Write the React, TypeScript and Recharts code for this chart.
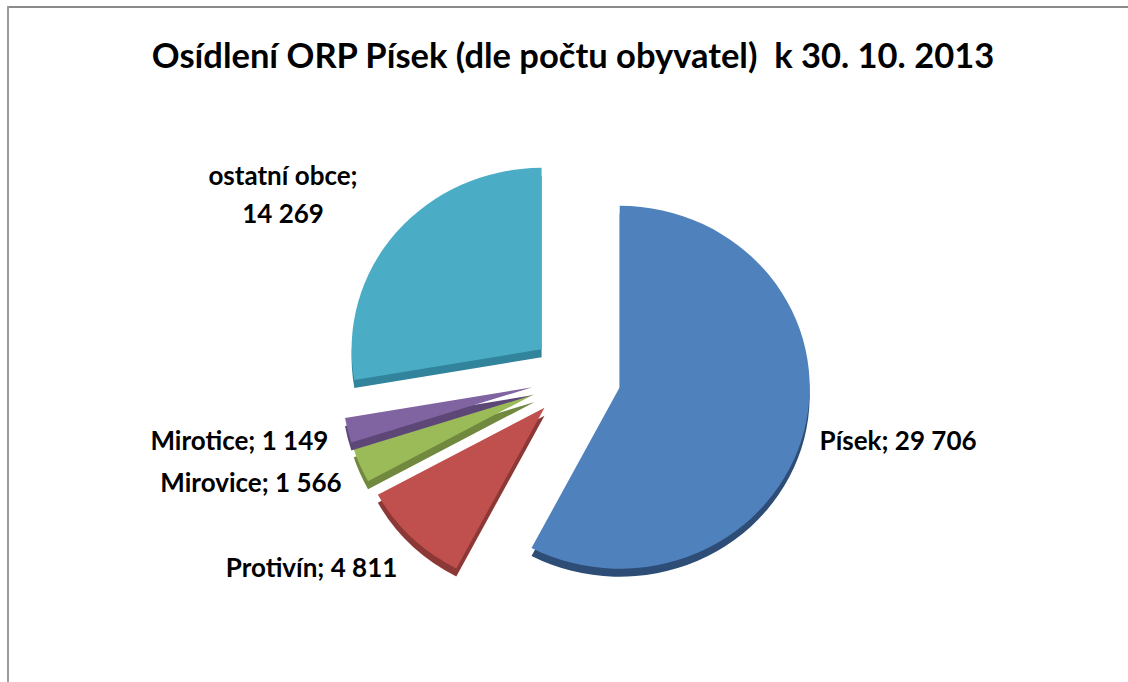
import React from 'react';
import { PieChart, Pie, Cell } from 'recharts';

const names = ['Písek', 'Protivín', 'Mirovice', 'Mirotice', 'ostatní obce'];
const populations = [29706, 4811, 1566, 1149, 14269];
const colors = ['#4F81BD', '#C0504D', '#9BBB59', '#8064A2', '#4BACC6'];
const sideColors = ['#2E4D76', '#8C3836', '#71893F', '#5C4776', '#31849B'];

const data = names.map((name, i) => ({ name, value: populations[i] }));

const RAD = Math.PI / 180;
const EXPLODE = 45;
const TILT = 0.955;
const DEPTH = 8;
const FONT = 'Lato, "Open Sans", sans-serif';

const fmt = (v: number) => String(v).replace(/\B(?=(\d{3})+(?!\d))/g, ' ');

const pt = (cx: number, cy: number, r: number, angle: number) => [
  cx + r * Math.cos(-angle * RAD),
  cy + r * TILT * Math.sin(-angle * RAD),
];

// exploded, slightly tilted slice with a darker side underneath
const ExplodedSlice = (props: any) => {
  const { cx, cy, outerRadius, startAngle, endAngle, midAngle, fill } = props;
  const name = props.name ?? props.payload?.name;
  const idx = Math.max(0, names.indexOf(name));
  const [ox, oy] = pt(0, 0, EXPLODE, midAngle);
  const x0 = cx + ox;
  const y0 = cy + oy;
  const path = (dy: number) => {
    const [sx, sy] = pt(x0, y0 + dy, outerRadius, startAngle);
    const [ex, ey] = pt(x0, y0 + dy, outerRadius, endAngle);
    const large = Math.abs(endAngle - startAngle) > 180 ? 1 : 0;
    return `M${x0},${y0 + dy} L${sx},${sy} A${outerRadius},${outerRadius * TILT} 0 ${large} 1 ${ex},${ey} Z`;
  };
  return (
    <g>
      <path d={path(DEPTH)} fill={sideColors[idx]} />
      <path d={path(0)} fill={fill} />
    </g>
  );
};

const renderLabel = (props: any) => {
  const { cx, cy, midAngle, outerRadius, name, value } = props;
  const rl = outerRadius + EXPLODE + 20;
  const x = cx + rl * Math.cos(-midAngle * RAD);
  const y = cy + rl * 1.05 * Math.sin(-midAngle * RAD);
  const right = Math.cos(-midAngle * RAD) >= 0;
  const style = { fontFamily: FONT, fontWeight: 700, fontSize: 26, fill: '#000' };
  if (name.length > 10) {
    // long name: two centred lines, like Excel's wrapped label
    return (
      <text x={x - 98} y={y} textAnchor="middle" style={style}>
        <tspan x={x - 98} dy={-19}>{name};</tspan>
        <tspan x={x - 98} dy={38}>{fmt(value)}</tspan>
      </text>
    );
  }
  return (
    <text x={x - (right ? 4 : 0)} y={y} dy={9} textAnchor={right ? 'start' : 'end'} style={style}>
      {`${name}; ${fmt(value)}`}
    </text>
  );
};

export default function App() {
  return (
    <div style={{ position: 'fixed', left: 0, top: 0, width: 1128, height: 682, background: '#fff', overflow: 'hidden' }}>
      <div
        style={{
          position: 'absolute',
          left: 0,
          top: 35,
          width: 1146,
          textAlign: 'center',
          fontFamily: FONT,
          fontWeight: 700,
          fontSize: 34.5,
          lineHeight: '40px',
          color: '#000',
          whiteSpace: 'pre',
        }}
      >
        Osídlení ORP Písek (dle počtu obyvatel)  k 30. 10. 2013
      </div>
      <div style={{ position: 'absolute', left: 0, top: 0 }}>
        <PieChart width={1128} height={682} margin={{ top: 0, right: 0, bottom: 0, left: 0 }}>
          <Pie
            data={data}
            dataKey="value"
            nameKey="name"
            cx={576}
            cy={377}
            outerRadius={190}
            startAngle={90}
            endAngle={-270}
            stroke="none"
            shape={ExplodedSlice}
            activeShape={ExplodedSlice}
            inactiveShape={ExplodedSlice}
            label={renderLabel}
            labelLine={false}
            isAnimationActive={false}
          >
            {data.map((d, i) => (
              <Cell key={d.name} fill={colors[i]} />
            ))}
          </Pie>
        </PieChart>
      </div>
      {/* chart frame: top and left edges only */}
      <div style={{ position: 'absolute', left: 7, top: 6, width: 1121, height: 2, background: '#8a8a8a', zIndex: 5 }} />
      <div style={{ position: 'absolute', left: 7, top: 6, width: 2, height: 676, background: '#9a9a9a', zIndex: 5 }} />
    </div>
  );
}
